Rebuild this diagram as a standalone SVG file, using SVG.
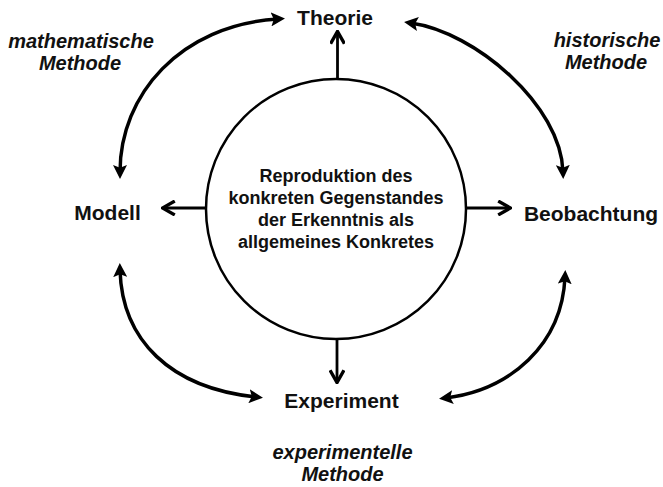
<svg xmlns="http://www.w3.org/2000/svg" width="663" height="487" viewBox="0 0 663 487">
<style>
.lbl{font-family:"Liberation Sans",Arial,sans-serif;font-weight:bold;font-size:21px;fill:#111;text-anchor:middle}
.mth{font-family:"Liberation Sans",Arial,sans-serif;font-weight:bold;font-style:italic;font-size:20px;fill:#111;text-anchor:middle}
.ctr{font-family:"Liberation Sans",Arial,sans-serif;font-weight:bold;font-size:18px;fill:#111;text-anchor:middle}
.arc{fill:none;stroke:#000;stroke-width:3.5;marker-start:url(#ah);marker-end:url(#ah)}
.st{fill:none;stroke:#000;stroke-width:2.8;marker-end:url(#ah2)}
</style>
<defs>
<marker id="ah" viewBox="0 0 10 10" refX="5" refY="5" markerWidth="4" markerHeight="4" orient="auto-start-reverse" markerUnits="strokeWidth">
<path d="M0,0 L10,5 L0,10 L2,5 z" fill="#000"/>
</marker>
<marker id="ah2" viewBox="0 0 10 10" refX="8" refY="5" markerWidth="5.5" markerHeight="5.5" orient="auto" markerUnits="strokeWidth">
<path d="M1,0.5 L9,5 L1,9.5" fill="none" stroke="#000" stroke-width="2.2"/>
</marker>
</defs>
<rect width="663" height="487" fill="#fff"/>
<g id="center">
<circle cx="336" cy="209" r="130" fill="#fff" stroke="#000" stroke-width="2.5"/>
<text class="ctr" x="336" y="182">Reproduktion des</text>
<text class="ctr" x="336" y="204">konkreten Gegenstandes</text>
<text class="ctr" x="336" y="226">der Erkenntnis als</text>
<text class="ctr" x="336" y="248">allgemeines Konkretes</text>
</g>
<g id="theorie"><text class="lbl" x="335" y="25">Theorie</text></g>
<g id="modell"><text class="lbl" x="107.5" y="220">Modell</text></g>
<g id="beobachtung"><text class="lbl" x="591" y="221">Beobachtung</text></g>
<g id="experiment"><text class="lbl" x="341.5" y="408">Experiment</text></g>
<g id="methods">
<text class="mth" x="81" y="48">mathematische</text>
<text class="mth" x="80" y="70">Methode</text>
<text class="mth" x="607" y="47">historische</text>
<text class="mth" x="606" y="69">Methode</text>
<text class="mth" x="342.5" y="459">experimentelle</text>
<text class="mth" x="342.5" y="481">Methode</text>
</g>
<g id="connectors">
<path class="st" d="M337.5,79 V33"/>
<path class="st" d="M337,339 V381"/>
<path class="st" d="M205,208 H164"/>
<path class="st" d="M467,208 H509"/>
<path class="arc" d="M120,172 C120,95 180,25 278,19"/>
<path class="arc" d="M411,23 C475,32 561,105 563,172"/>
<path class="arc" d="M120,270 C122,340 170,388 256,397"/>
<path class="arc" d="M565,277 C562,345 510,390 446,398"/>
</g>
</svg>
